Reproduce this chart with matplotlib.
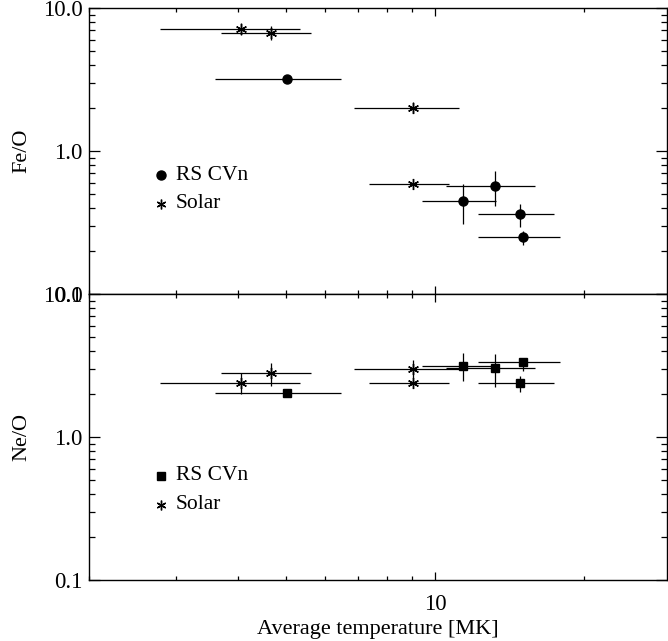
import matplotlib
matplotlib.use('Agg')
import matplotlib.pyplot as plt
import numpy as np

plt.rcParams['font.family'] = ['Liberation Serif', 'DejaVu Serif']

# Fe/O panel
fe_rs_t = [5.02, 13.2, 11.36, 14.83, 15.04]
fe_rs_tlo = [3.59, 10.5, 9.43, 12.2, 12.2]
fe_rs_thi = [6.46, 15.9, 13.27, 17.42, 17.86]
fe_rs_v = [3.17, 0.572, 0.449, 0.364, 0.250]
fe_rs_vlo = [3.17, 0.415, 0.307, 0.296, 0.220]
fe_rs_vhi = [3.17, 0.724, 0.591, 0.428, 0.277]

fe_sol_t = [4.06, 4.66, 9.03, 9.03]
fe_sol_tlo = [2.78, 3.70, 6.86, 7.36]
fe_sol_thi = [5.34, 5.62, 11.18, 10.67]
fe_sol_v = [7.13, 6.65, 2.01, 0.585]
fe_sol_vlo = [6.45, 5.95, 1.85, 0.565]
fe_sol_vhi = [7.85, 7.45, 2.20, 0.605]

# Ne/O panel
ne_rs_t = [5.02, 11.36, 13.2, 15.04, 14.83]
ne_rs_tlo = [3.59, 9.43, 10.5, 12.2, 12.2]
ne_rs_thi = [6.46, 13.27, 15.9, 17.86, 17.42]
ne_rs_v = [2.02, 3.14, 3.04, 3.35, 2.40]
ne_rs_vlo = [1.95, 2.46, 2.23, 2.91, 2.05]
ne_rs_vhi = [2.08, 3.85, 3.80, 3.55, 2.67]

ne_sol_t = [4.06, 4.66, 9.03, 9.03]
ne_sol_tlo = [2.78, 3.70, 6.86, 7.36]
ne_sol_thi = [5.34, 5.62, 11.18, 10.67]
ne_sol_v = [2.40, 2.82, 3.00, 2.40]
ne_sol_vlo = [1.99, 2.28, 2.60, 2.30]
ne_sol_vhi = [2.79, 3.28, 3.45, 2.50]

yticks = [0.1, 1.0, 10.0]
ytick_labels = ['0.1', '1.0', '10.0']

ASTER = (6, 2, 0)


def errs(v, lo, hi):
    v = np.asarray(v)
    return np.vstack([v - np.asarray(lo), np.asarray(hi) - v])


def draw_series(ax, t, tlo, thi, v, vlo, vhi, marker, ms):
    ax.errorbar(t, v, xerr=errs(t, tlo, thi), yerr=errs(v, vlo, vhi),
                fmt='none', ecolor='black', elinewidth=0.9, capsize=0)
    ax.plot(t, v, ls='none', marker=marker, ms=ms, color='black',
            mec='black', mew=1.0)


def style_axis(ax, ylabel):
    ax.set_xscale('log')
    ax.set_yscale('log')
    ax.set_xlim(2, 29.4)
    ax.set_ylim(0.1, 10.0)
    ax.set_yticks(yticks)
    ax.set_yticklabels(ytick_labels)
    ax.set_xticks([10])
    ax.set_xticklabels(['10'])
    ax.xaxis.set_minor_locator(matplotlib.ticker.LogLocator(subs=np.arange(2, 10)))
    ax.xaxis.set_minor_formatter(matplotlib.ticker.NullFormatter())
    ax.yaxis.set_minor_locator(matplotlib.ticker.LogLocator(subs=np.arange(2, 10)))
    ax.yaxis.set_minor_formatter(matplotlib.ticker.NullFormatter())
    ax.tick_params(axis='both', which='both', direction='in', top=True, right=True,
                   width=0.9, labelsize=16.5, colors='black')
    ax.tick_params(axis='y', which='major', length=8, pad=4.5)
    ax.tick_params(axis='y', which='minor', length=4.3)
    ax.tick_params(axis='x', which='major', length=5.5, pad=10)
    ax.tick_params(axis='x', which='minor', length=2.8)
    for s in ax.spines.values():
        s.set_linewidth(1.0)
    ax.set_ylabel(ylabel, fontsize=16, labelpad=8)


fig = plt.figure(figsize=(6.68, 6.41), dpi=100)
ax1 = fig.add_axes([0.1332, 0.5413, 0.8653, 0.4462])
ax2 = fig.add_axes([0.1332, 0.0952, 0.8653, 0.4461])

draw_series(ax1, fe_rs_t, fe_rs_tlo, fe_rs_thi, fe_rs_v, fe_rs_vlo, fe_rs_vhi, 'o', 6.5)
draw_series(ax1, fe_sol_t, fe_sol_tlo, fe_sol_thi, fe_sol_v, fe_sol_vlo, fe_sol_vhi, ASTER, 8)
style_axis(ax1, 'Fe/O')
ax1.tick_params(axis='x', labelbottom=False)

draw_series(ax2, ne_rs_t, ne_rs_tlo, ne_rs_thi, ne_rs_v, ne_rs_vlo, ne_rs_vhi, 's', 6)
draw_series(ax2, ne_sol_t, ne_sol_tlo, ne_sol_thi, ne_sol_v, ne_sol_vlo, ne_sol_vhi, ASTER, 8)
style_axis(ax2, 'Ne/O')
ax2.set_xlabel('Average temperature [MK]', fontsize=16, labelpad=4)

# legends drawn by hand, as in the original
legend_pos = {ax1: (0.416, 0.315), ax2: (0.365, 0.263)}
for ax, rs_marker, rs_ms in [(ax1, 'o', 6.5), (ax2, 's', 6)]:
    y_rs, y_sol = legend_pos[ax]
    ax.plot([0.1246], [y_rs], transform=ax.transAxes, marker=rs_marker, ms=rs_ms,
            color='black', ls='none', clip_on=False)
    ax.text(0.1505, y_rs, 'RS CVn', transform=ax.transAxes, fontsize=15.5,
            va='center', ha='left')
    ax.plot([0.1246], [y_sol], transform=ax.transAxes, marker=ASTER, ms=7,
            color='black', mew=1.0, ls='none', clip_on=False)
    ax.text(0.1505, y_sol, 'Solar', transform=ax.transAxes, fontsize=15.5,
            va='center', ha='left')

fig.savefig('out.png', dpi=100)
